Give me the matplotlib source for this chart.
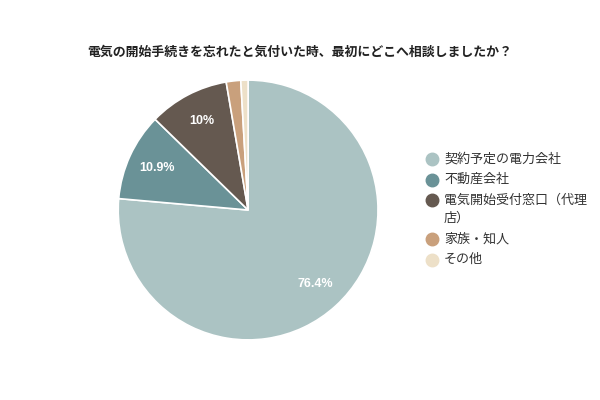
import matplotlib
matplotlib.use("Agg")
import matplotlib.pyplot as plt
from matplotlib.lines import Line2D
import numpy as np

plt.rcParams['font.family'] = ['Noto Sans CJK JP', 'DejaVu Sans']

title = "電気の開始手続きを忘れたと気付いた時、最初にどこへ相談しましたか？"
categories = ["契約予定の電力会社", "不動産会社", "電気開始受付窓口（代理\n店）", "家族・知人", "その他"]
values = [76.4, 10.9, 10.0, 1.8, 0.9]
pct_labels = ["76.4%", "10.9%", "10%", "", ""]
colors = ["#abc3c3", "#6a9297", "#655950", "#c9a07c", "#ede0c8"]

W, H = 600, 400
fig = plt.figure(figsize=(6, 4), dpi=100)
fig.patch.set_facecolor("white")
fig.text(0.5, 0.87, title, ha="center", va="center", fontsize=9.3, fontweight="bold", color="#222222")

ax = fig.add_axes([0.197, 0.15, 0.433, 0.65])
wedges, _ = ax.pie(values, colors=colors, startangle=90, counterclock=False,
                   wedgeprops=dict(edgecolor="white", linewidth=1.2))
cum = 0
for v, lab in zip(values, pct_labels):
    mid = cum + v / 2
    cum += v
    if not lab:
        continue
    ang = np.deg2rad(90 - mid / 100 * 360)
    r = 0.77
    ax.text(r * np.cos(ang), r * np.sin(ang), lab, ha="center", va="center",
            color="white", fontsize=9, fontweight="bold", family=["Liberation Sans", "DejaVu Sans"])
ax.set_xlim(-1.0, 1.0)
ax.set_ylim(-1.0, 1.0)
ax.set_aspect("equal")

# manual legend (marker aligned with first text line)
y = 159.0
row_step = 20.5
line_step = 18.5
for c, lab in zip(colors, categories):
    lines = lab.split("\n")
    fig.add_artist(Line2D([432 / W], [1 - y / H], marker="o", linestyle="", markersize=9,
                          markerfacecolor=c, markeredgecolor=c, transform=fig.transFigure))
    for i, ln in enumerate(lines):
        fig.text(444 / W, 1 - (y + i * line_step) / H, ln, ha="left", va="center",
                 fontsize=9.4, color="#333333")
    y += row_step + (len(lines) - 1) * line_step

fig.savefig("out.png", dpi=100)
